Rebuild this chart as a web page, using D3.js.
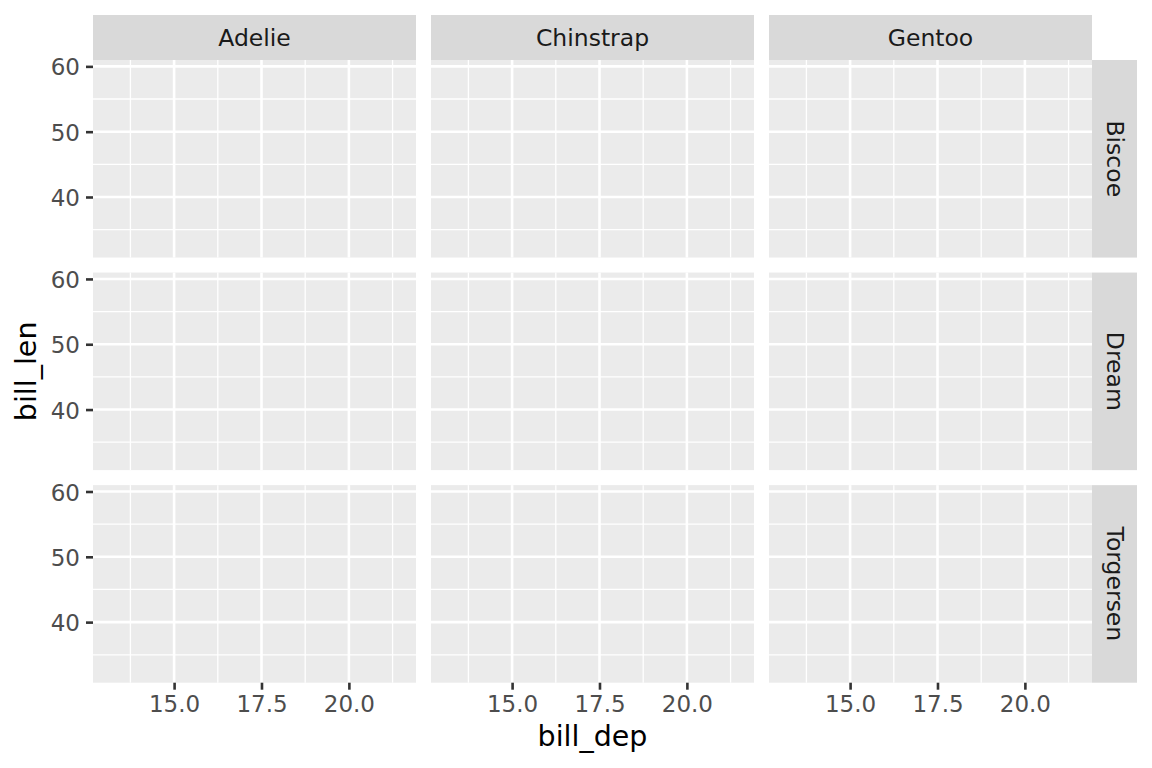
<!DOCTYPE html>
<html>
<head>
<meta charset="utf-8">
<script src="https://cdn.jsdelivr.net/npm/d3@7"></script>
<style>
  html, body { margin: 0; padding: 0; background: #fff; }
  svg { display: block; font-family: "DejaVu Sans", sans-serif; }
</style>
</head>
<body>
<svg id="chart" width="1152" height="768"></svg>
<script>
// ---- data (faceted scatter with no visible points) ----
const species = ["Adelie", "Chinstrap", "Gentoo"];
const islands = ["Biscoe", "Dream", "Torgersen"];
const xDomain = [12.68, 21.92];          // bill_dep range (expanded)
const yDomain = [30.725, 60.975];        // bill_len range (expanded)
const xTicks = [15.0, 17.5, 20.0];
const xMinor = [13.75, 16.25, 18.75, 21.25];
const yTicks = [40, 50, 60];
const yMinor = [35, 45, 55];
const xTitle = "bill_dep";
const yTitle = "bill_len";

// ---- layout ----
const W = 1152, H = 768;
const plotLeft = 93, plotRight = 1092, plotTop = 60, plotBottom = 682.7;
const gap = 15;
const stripTop = 15, stripRight = 1137;
const panelW = (plotRight - plotLeft - gap * (species.length - 1)) / species.length;
const panelH = (plotBottom - plotTop - gap * (islands.length - 1)) / islands.length;

const svg = d3.select("#chart");
svg.append("rect").attr("width", W).attr("height", H).attr("fill", "#ffffff");

const x = d3.scaleLinear().domain(xDomain).range([0, panelW]);
const y = d3.scaleLinear().domain(yDomain).range([panelH, 0]);

const majorW = 2.6, minorW = 1.3;

islands.forEach((isl, r) => {
  species.forEach((sp, c) => {
    const px = plotLeft + c * (panelW + gap);
    const py = plotTop + r * (panelH + gap);
    const g = svg.append("g").attr("transform", `translate(${px},${py})`);
    g.append("rect").attr("width", panelW).attr("height", panelH).attr("fill", "#EBEBEB");
    // minor grid
    g.selectAll(".ymin").data(yMinor).join("line")
      .attr("x1", 0).attr("x2", panelW)
      .attr("y1", d => y(d)).attr("y2", d => y(d))
      .attr("stroke", "#fff").attr("stroke-width", minorW);
    g.selectAll(".xmin").data(xMinor).join("line")
      .attr("y1", 0).attr("y2", panelH)
      .attr("x1", d => x(d)).attr("x2", d => x(d))
      .attr("stroke", "#fff").attr("stroke-width", minorW);
    // major grid
    g.selectAll(".ymaj").data(yTicks).join("line")
      .attr("x1", 0).attr("x2", panelW)
      .attr("y1", d => y(d)).attr("y2", d => y(d))
      .attr("stroke", "#fff").attr("stroke-width", majorW);
    g.selectAll(".xmaj").data(xTicks).join("line")
      .attr("y1", 0).attr("y2", panelH)
      .attr("x1", d => x(d)).attr("x2", d => x(d))
      .attr("stroke", "#fff").attr("stroke-width", majorW);

    // y axis on first column
    if (c === 0) {
      const ax = g.append("g").call(d3.axisLeft(y).tickValues(yTicks).tickSize(7).tickPadding(6).tickFormat(d3.format("d")));
      ax.select(".domain").remove();
      ax.selectAll(".tick line").attr("stroke", "#333333").attr("stroke-width", majorW);
      ax.selectAll(".tick text").attr("fill", "#4D4D4D").attr("font-size", "23px")
        .attr("font-family", "DejaVu Sans, sans-serif").attr("dy", "0.37em");
    }
    // x axis on last row
    if (r === islands.length - 1) {
      const ax = g.append("g").attr("transform", `translate(0,${panelH})`)
        .call(d3.axisBottom(x).tickValues(xTicks).tickSize(7).tickPadding(5).tickFormat(d3.format(".1f")));
      ax.select(".domain").remove();
      ax.selectAll(".tick line").attr("stroke", "#333333").attr("stroke-width", majorW);
      ax.selectAll(".tick text").attr("fill", "#4D4D4D").attr("font-size", "23px")
        .attr("font-family", "DejaVu Sans, sans-serif").attr("dy", "0.76em");
    }
  });
});

// top strips
species.forEach((sp, c) => {
  const px = plotLeft + c * (panelW + gap);
  svg.append("rect").attr("x", px).attr("y", stripTop).attr("width", panelW).attr("height", plotTop - stripTop)
    .attr("fill", "#D9D9D9");
  svg.append("text").attr("x", px + panelW / 2).attr("y", (stripTop + plotTop) / 2 + 8)
    .attr("text-anchor", "middle").attr("font-size", "23.5px").attr("fill", "#1A1A1A").text(sp);
});

// right strips
islands.forEach((isl, r) => {
  const py = plotTop + r * (panelH + gap);
  svg.append("rect").attr("x", plotRight).attr("y", py).attr("width", stripRight - plotRight).attr("height", panelH)
    .attr("fill", "#D9D9D9");
  const cx = (plotRight + stripRight) / 2, cy = py + panelH / 2;
  svg.append("text").attr("transform", `translate(${cx - 8},${cy}) rotate(90)`)
    .attr("text-anchor", "middle").attr("font-size", "23.5px").attr("fill", "#1A1A1A").text(isl);
});

// axis titles
svg.append("text").attr("x", (plotLeft + plotRight) / 2).attr("y", 745.5)
  .attr("text-anchor", "middle").attr("font-size", "28.5px").attr("fill", "#000").text(xTitle);
svg.append("text").attr("transform", `translate(36,${(plotTop + plotBottom) / 2}) rotate(-90)`)
  .attr("text-anchor", "middle").attr("font-size", "28.5px").attr("fill", "#000").text(yTitle);
</script>
</body>
</html>
